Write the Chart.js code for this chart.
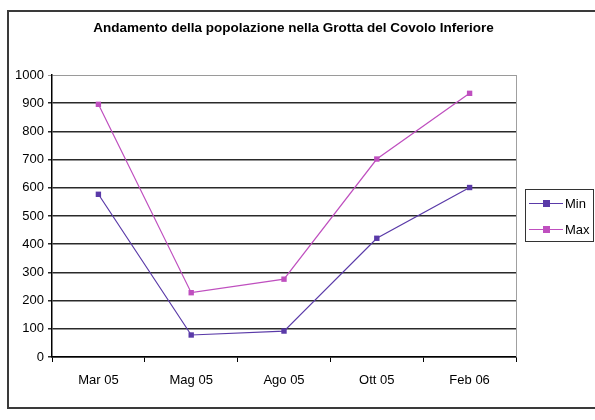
<!DOCTYPE html>
<html>
<head>
<meta charset="utf-8">
<script src="https://cdn.jsdelivr.net/npm/chart.js@4"></script>
<style>
html,body{margin:0;padding:0;background:#fff;}
#wrap{width:595px;height:420px;position:relative;}
</style>
</head>
<body>
<div id="wrap"><canvas id="c" width="595" height="420"></canvas></div>
<script>
const titleText = "Andamento della popolazione nella Grotta del Covolo Inferiore";
const categories = ["Mar 05", "Mag 05", "Ago 05", "Ott 05", "Feb 06"];
const minValues = [577, 78, 92, 421, 601];
const maxValues = [896, 228, 276, 702, 935];
const seriesNames = ["Min", "Max"];
const yTicks = [0, 100, 200, 300, 400, 500, 600, 700, 800, 900, 1000];

const minColor = "#5a3aa8";
const maxColor = "#bf4fbf";
const FONT = "'Liberation Sans', Arial, sans-serif";

const framePlugin = {
  id: "frame",
  beforeDraw(chart) {
    const ctx = chart.ctx;
    ctx.save();
    ctx.fillStyle = "#fff";
    ctx.fillRect(0, 0, chart.width, chart.height);
    ctx.strokeStyle = "#3a3a3a";
    ctx.lineWidth = 2;
    ctx.strokeRect(8, 11, 620, 397);
    ctx.fillStyle = "#000";
    ctx.font = "bold 13.5px " + FONT;
    ctx.textAlign = "center";
    ctx.textBaseline = "alphabetic";
    ctx.fillText(titleText, 293.5, 32);
    ctx.restore();
  },
  beforeDatasetsDraw(chart) {
    const ctx = chart.ctx;
    const a = chart.chartArea;
    ctx.save();
    ctx.strokeStyle = "#a0a0a0";
    ctx.lineWidth = 1;
    ctx.beginPath();
    ctx.moveTo(a.right + 0.5, a.top);
    ctx.lineTo(a.right + 0.5, a.bottom);
    ctx.stroke();
    ctx.restore();
  },
  afterDraw(chart) {
    const ctx = chart.ctx;
    ctx.save();
    ctx.strokeStyle = "#333";
    ctx.lineWidth = 1;
    ctx.strokeRect(525.5, 189.5, 68, 52);
    const rows = [203, 229];
    chart.data.datasets.forEach((ds, i) => {
      const y = rows[i];
      ctx.strokeStyle = ds.borderColor;
      ctx.lineWidth = 1;
      ctx.beginPath();
      ctx.moveTo(529, y + 0.5);
      ctx.lineTo(563, y + 0.5);
      ctx.stroke();
      ctx.fillStyle = ds.backgroundColor;
      ctx.fillRect(543, y - 3, 7, 7);
      ctx.fillStyle = "#000";
      ctx.font = "13px " + FONT;
      ctx.textBaseline = "middle";
      ctx.textAlign = "left";
      ctx.fillText(ds.label, 565, y + 1);
    });
    ctx.restore();
  }
};

new Chart(document.getElementById("c"), {
  type: "line",
  data: {
    labels: categories,
    datasets: [
      {
        label: seriesNames[0],
        data: minValues,
        borderColor: minColor,
        backgroundColor: minColor,
        borderWidth: 1.2,
        pointStyle: "rect",
        pointRadius: 3.8,
        pointBorderWidth: 0,
        tension: 0
      },
      {
        label: seriesNames[1],
        data: maxValues,
        borderColor: maxColor,
        backgroundColor: maxColor,
        borderWidth: 1.2,
        pointStyle: "rect",
        pointRadius: 3.8,
        pointBorderWidth: 0,
        tension: 0
      }
    ]
  },
  options: {
    responsive: false,
    animation: false,
    devicePixelRatio: 1,
    layout: { padding: { left: 0, right: 79, top: 75, bottom: 0 } },
    plugins: {
      legend: { display: false },
      tooltip: { enabled: false },
      title: { display: false }
    },
    scales: {
      x: {
        offset: true,
        afterFit(scale) { scale.height = 63; },
        grid: {
          offset: true,
          drawOnChartArea: false,
          drawTicks: true,
          tickLength: 5,
          color: "#000",
          lineWidth: 1
        },
        border: { display: true, color: "#000", width: 1.5 },
        ticks: {
          color: "#000",
          font: { family: FONT, size: 13 },
          padding: 11,
          maxRotation: 0
        }
      },
      y: {
        min: 0,
        max: 1000,
        afterFit(scale) { scale.width = 52; },
        afterBuildTicks(scale) { scale.ticks = yTicks.map(v => ({ value: v })); },
        grid: {
          drawTicks: true,
          tickLength: 4,
          color: (c) => (c.tick && c.tick.value === 1000 ? "#9a9a9a" : "#2a2a2a"),
          lineWidth: (c) => (c.tick && c.tick.value === 1000 ? 1 : 1.5)
        },
        border: { display: true, color: "#000", width: 1.5 },
        ticks: {
          color: "#000",
          font: { family: FONT, size: 13 },
          padding: 4,
          callback: (v) => String(v)
        }
      }
    }
  },
  plugins: [framePlugin]
});
</script>
</body>
</html>
